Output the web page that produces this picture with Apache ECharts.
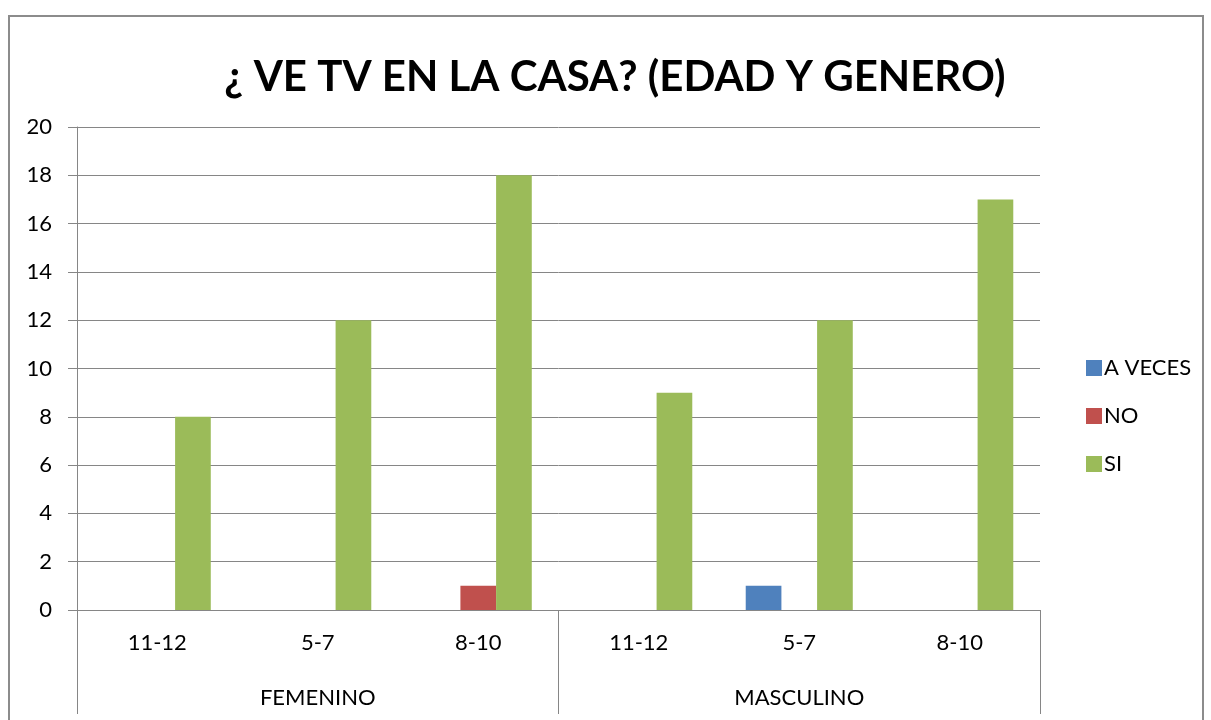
<!DOCTYPE html>
<html>
<head>
<meta charset="utf-8">
<script src="https://cdn.jsdelivr.net/npm/echarts@6/dist/echarts.min.js"></script>
<style>
  html, body { margin: 0; padding: 0; background: #fff; }
  #frame { position: absolute; left: 8px; top: 15px; width: 1196px; height: 720px; border: 2px solid #8c8c8c; box-sizing: border-box; }
  #chart { position: absolute; left: 0; top: 0; width: 1211px; height: 720px; }
</style>
</head>
<body>
<div id="frame"></div>
<div id="chart"></div>
<script>
// datos
const ageGroups = ['11-12', '5-7', '8-10', '11-12', '5-7', '8-10']
const genders = ['FEMENINO', 'MASCULINO']
const aVeces = [0, 0, 0, 0, 1, 0]
const no = [0, 0, 1, 0, 0, 0]
const si = [8, 12, 18, 9, 12, 17]

const font = 'Lato, "Open Sans", sans-serif'
const axisGray = '#868686'

const chart = echarts.init(document.getElementById('chart'))
chart.setOption({
  animation: false,
  title: {
    text: '¿ VE TV EN LA CASA? (EDAD Y GENERO)',
    left: 610, top: 51, textAlign: 'center',
    textStyle: { fontFamily: font, fontWeight: 'bold', fontSize: 42, color: '#000' }
  },
  legend: {
    orient: 'vertical',
    left: 1081, top: 352,
    itemWidth: 16, itemHeight: 16, itemGap: 26,
    icon: 'rect',
    textStyle: { fontFamily: font, fontSize: 22, color: '#000', padding: [0, 0, 0, -3] },
    data: ['A VECES', 'NO', 'SI']
  },
  grid: { left: 77, right: 171, top: 127, bottom: 110 },
  xAxis: [
    {
      type: 'category',
      data: ageGroups,
      axisLine: { lineStyle: { color: axisGray, width: 1 } },
      axisTick: { show: false },
      axisLabel: { margin: 22, fontFamily: font, fontSize: 22, color: '#000' }
    },
    {
      type: 'category',
      data: genders,
      position: 'bottom',
      axisLine: { show: false },
      axisTick: { show: true, length: 104, lineStyle: { color: axisGray, width: 1 } },
      axisLabel: { margin: 77, fontFamily: font, fontSize: 22, color: '#000' }
    }
  ],
  yAxis: {
    type: 'value',
    min: 0, max: 20, interval: 2,
    axisLine: { show: true, lineStyle: { color: axisGray, width: 1 } },
    axisTick: { show: true, length: 9, lineStyle: { color: axisGray } },
    splitLine: { lineStyle: { color: axisGray, width: 1 } },
    axisLabel: { margin: 25, fontFamily: font, fontSize: 22, color: '#000' }
  },
  series: [
    { name: 'A VECES', type: 'bar', data: aVeces, barGap: '0%', barCategoryGap: '33.3%', itemStyle: { color: '#4F81BD' } },
    { name: 'NO', type: 'bar', data: no, barGap: '0%', barCategoryGap: '33.3%', itemStyle: { color: '#C0504D' } },
    { name: 'SI', type: 'bar', data: si, barGap: '0%', barCategoryGap: '33.3%', itemStyle: { color: '#9BBB59' } }
  ]
})
</script>
</body>
</html>
